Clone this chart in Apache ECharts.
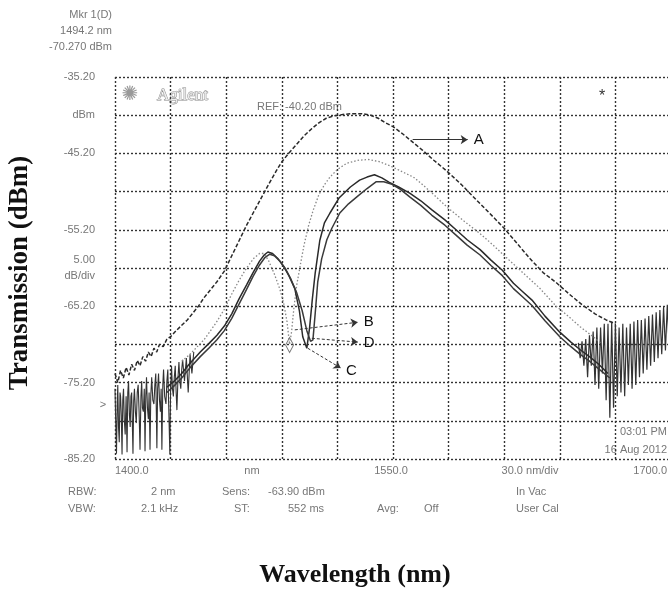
<!DOCTYPE html>
<html>
<head>
<meta charset="utf-8">
<title>Transmission spectrum</title>
<script src="https://cdn.jsdelivr.net/npm/echarts@6/dist/echarts.min.js"></script>
<style>
  html, body { margin: 0; padding: 0; background: #fff; }
  #chart { width: 668px; height: 589px; }
</style>
</head>
<body>
<div id="chart"></div>
<script>
// trace A: dashed, highest curve
const traceA = [
  [1400, -74.0], [1401.5, -75.2], [1403, -73.6], [1404.5, -74.6], [1406, -73.2], [1407.5, -74.2],
  [1409, -72.8], [1410.5, -73.6], [1412, -72.3], [1413.5, -73.0], [1415, -71.8], [1416.5, -72.4],
  [1418, -71.2], [1419.5, -71.8], [1421, -70.7], [1422.5, -71.2], [1424, -70.2], [1426, -70.5],
  [1428, -69.5], [1430, -69.2], [1433, -68.4], [1436, -67.7], [1439, -67.0], [1442, -66.1],
  [1445, -65.2], [1448, -64.1], [1451, -63.2], [1455, -62.0], [1459, -60.6], [1463, -58.6],
  [1467, -56.6], [1471, -54.6], [1475, -52.8], [1479, -51.0], [1483, -49.2], [1487, -47.5],
  [1490, -46.3], [1494, -45.1], [1498, -44.0], [1502, -42.9], [1506, -42.0], [1510, -41.2],
  [1514, -40.6], [1518, -40.3], [1523, -40.1], [1528, -40.0], [1533, -40.0], [1538, -40.2],
  [1542, -40.6], [1546, -41.2], [1550, -41.7], [1555, -42.6], [1560, -43.6], [1566, -44.8],
  [1572, -46.1], [1579, -47.5], [1587, -49.3], [1595, -51.3], [1602, -53.0], [1610, -55.0],
  [1617, -57.0], [1624, -59.0], [1631, -60.8], [1638, -62.1], [1645, -63.6], [1652, -65.0],
  [1659, -66.2], [1665, -67.0], [1670, -67.5]
]

// trace B: dotted grey
const traceB = [
  [1436, -72.4], [1440, -71.6], [1444, -70.6], [1448, -69.6], [1451, -68.6], [1455, -67.2],
  [1459, -65.6], [1463, -63.6], [1467, -61.8], [1471, -60.2], [1475, -58.9], [1478, -58.3],
  [1480.5, -58.3], [1483, -59.3], [1486, -61.0], [1489, -63.0], [1491, -64.8], [1492.8, -67.2],
  [1494.2, -70.2], [1495.3, -68.5], [1496.5, -65.5], [1498, -62.5], [1500, -59.8], [1502, -57.2],
  [1504.5, -54.6], [1507, -52.6], [1510, -50.6], [1513, -49.3], [1516, -48.3], [1520, -47.3],
  [1525, -46.5], [1531, -46.1], [1537, -46.0], [1543, -46.3], [1549, -46.9], [1555, -47.6],
  [1561, -48.3], [1566, -49.3], [1572, -50.6], [1579, -52.2], [1588, -54.0], [1597, -55.7],
  [1604, -57.2], [1611, -58.8], [1620, -60.8], [1629, -62.8], [1638, -65.2], [1645, -66.6],
  [1651, -67.9], [1657, -69.0], [1662, -70.0]
]

// trace C: solid, deepest notch
const traceC = [
  [1428, -75.8], [1432, -75.0], [1436, -74.0], [1440, -72.8], [1446, -71.2], [1451, -70.0],
  [1455, -69.0], [1459, -67.8], [1463, -66.2], [1467, -64.2], [1471, -62.4], [1474.5, -60.8],
  [1478, -59.3], [1480.5, -58.5], [1482.5, -58.1], [1485, -58.3], [1488, -59.0], [1491, -60.0],
  [1494, -61.3], [1497, -62.9], [1499.5, -65.8], [1501.3, -69.2], [1503.5, -70.7], [1505, -68.0],
  [1506.5, -64.2], [1508, -60.9], [1510.5, -56.6], [1513, -54.3], [1516, -53.0], [1521, -51.0],
  [1527, -49.6], [1532, -48.7], [1536, -48.3], [1540, -48.0], [1544, -48.4], [1548, -49.0],
  [1553, -49.6], [1559, -50.4], [1565, -51.4], [1571, -52.6], [1578, -53.9], [1584, -55.2],
  [1590, -56.5], [1597, -57.8], [1603, -59.2], [1609, -60.5], [1615, -62.2], [1620, -63.3],
  [1625, -64.4], [1632, -66.5], [1640, -68.6], [1646, -69.9], [1651, -70.9], [1656, -71.8],
  [1661, -72.8], [1666, -74.0]
]

// trace D: solid, notch slightly to the right
const traceD = [
  [1428, -76.5], [1432, -75.6], [1436, -74.6], [1440, -73.4], [1446, -71.8], [1451, -70.6],
  [1455, -69.6], [1459, -68.4], [1463, -66.8], [1467, -64.9], [1471, -63.0], [1474.5, -61.3],
  [1478, -59.8], [1481, -58.8], [1483.5, -58.4], [1486, -58.6], [1489, -59.3], [1492, -60.3],
  [1495, -61.7], [1498, -63.4], [1501, -65.8], [1503.5, -68.4], [1505.5, -69.8], [1506.8, -69.6],
  [1508, -66.2], [1509.4, -62.0], [1511.5, -59.0], [1514.3, -56.5], [1517, -55.0], [1521.3, -53.0],
  [1526, -51.8], [1530.5, -50.9], [1536, -49.8], [1541, -48.9], [1545, -48.9], [1549, -49.2],
  [1554, -49.9], [1559, -50.9], [1565, -52.0], [1571, -53.3], [1578, -54.6], [1584, -55.9],
  [1590, -57.2], [1597, -58.5], [1603, -59.9], [1609, -61.2], [1615, -62.9], [1620, -64.0],
  [1625, -65.1], [1632, -67.1], [1640, -69.2], [1646, -70.5], [1651, -71.5], [1656, -72.4],
  [1661, -73.4], [1667, -74.6]
]

// noise floor at the short wavelength end
const noiseLeft = [
  [1400, -76.0], [1400.4, -80.5], [1400.8, -84.5], [1401.2, -78.0], [1401.5, -75.5], [1401.9, -81.0],
  [1402.3, -83.0], [1402.7, -76.5], [1403, -77.0], [1403.4, -79.5], [1403.8, -84.6], [1404.2, -77.5],
  [1404.6, -76.0], [1405, -80.0], [1405.5, -82.0], [1406, -77.0], [1406.5, -84.3], [1406.9, -76.5],
  [1407.3, -75.0], [1407.8, -79.5], [1408.2, -81.0], [1408.6, -77.0], [1409, -76.5], [1409.3, -80.0],
  [1409.7, -84.5], [1410.1, -77.5], [1410.5, -76.0], [1411, -79.0], [1411.5, -80.5], [1412, -76.5],
  [1412.5, -75.5], [1413, -79.0], [1413.5, -84.0], [1414, -77.0], [1414.4, -75.0], [1414.8, -78.5],
  [1415.3, -79.0], [1415.8, -76.0], [1416.2, -84.2], [1416.6, -77.0], [1417, -74.5], [1417.5, -78.5],
  [1418, -80.0], [1418.4, -76.5], [1418.9, -84.0], [1419.3, -77.0], [1419.8, -74.5], [1420.4, -77.5],
  [1421, -78.0], [1421.5, -75.5], [1422, -74.0], [1422.3, -79.0], [1422.6, -83.8], [1423, -76.0],
  [1423.5, -74.0], [1424, -77.5], [1424.5, -79.0], [1424.9, -76.0], [1425.3, -84.0], [1425.8, -75.5],
  [1426.2, -73.5], [1426.8, -77.0], [1427.5, -78.0], [1428, -75.0], [1428.5, -73.5], [1429, -78.5],
  [1429.6, -84.6], [1430, -76.0], [1430.5, -73.0], [1431, -76.0], [1431.5, -77.0], [1432, -74.5],
  [1432.5, -73.0], [1433, -76.5], [1433.4, -78.8], [1434, -74.5], [1434.5, -72.5], [1435, -75.0],
  [1435.5, -76.0], [1436, -73.5], [1436.5, -72.2], [1437.5, -75.0], [1438.5, -72.0], [1439.5, -76.5],
  [1440.5, -71.5], [1441.5, -74.0], [1442.5, -71.2]
]

// noise floor at the long wavelength end
const noiseRight = [
  [1650, -70.0], [1651, -72.0], [1652, -69.8], [1653, -73.0], [1654, -69.5], [1655, -74.5],
  [1656, -69.0], [1657, -73.0], [1658, -68.5], [1659, -75.5], [1660, -68.0], [1661, -76.0],
  [1662, -68.0], [1663, -74.0], [1664, -67.5], [1665, -77.5], [1666, -67.5], [1667, -79.8],
  [1668, -67.2], [1669, -78.5], [1670, -67.5], [1671, -77.0], [1672, -68.0], [1673, -76.5],
  [1674, -67.5], [1675, -77.0], [1676, -68.0], [1677, -75.5], [1678, -67.5], [1679, -76.0],
  [1680, -67.2], [1681, -75.5], [1682, -67.0], [1683, -74.5], [1684, -67.0], [1685, -74.0],
  [1686, -66.8], [1687, -73.5], [1688, -66.5], [1689, -73.0], [1690, -66.3], [1691, -72.5],
  [1692, -66.0], [1693, -72.0], [1694, -65.7], [1695, -71.5], [1696, -65.3], [1697, -71.0],
  [1698, -65.0], [1699, -70.5], [1700, -64.8]
]

// arrows: [label, start, end]
const arrows = [
  ['A', [1560.6, -43.4], [1590.3, -43.4]],
  ['B', [1497.0, -68.3], [1531.0, -67.3]],
  ['D', [1506.2, -69.4], [1531.0, -69.9]],
  ['C', [1504.0, -70.7], [1521.8, -73.3]]
]
const marker = [1494.2, -70.27]

// tick labels, one per division (bottom to top) and along the x axis
const yTickLabels = ['-85.20', '', '-75.20', '', '-65.20', '5.00\ndB/div', '-55.20', '', '-45.20', 'dBm', '-35.20']
const xTickLabels = ['1400.0', 'nm', '1550.0', '30.0 nm/div', '1700.0']

const chart = echarts.init(document.getElementById('chart'))

const gridLine = { color: '#333', width: 1.4, type: [2, 2] }
const grey = '#777'
const osaFont = 'Liberation Sans, Arial, sans-serif'
const serif = 'Liberation Serif, Times New Roman, serif'

const smallText = (text, x, y, align) => ({
  type: 'text', x: x, y: y,
  style: { text: text, fill: grey, font: '11px ' + osaFont, textAlign: align || 'left', textVerticalAlign: 'middle' }
})

const option = {
  animation: false,
  grid: { left: 115, top: 77, width: 556, height: 382, outerBoundsMode: 'none' },
  xAxis: [
    {
      // grid divisions
      type: 'value', min: 0, max: 10, interval: 1,
      axisLine: { show: false }, axisTick: { show: false }, axisLabel: { show: false },
      splitLine: { show: true, lineStyle: gridLine }
    },
    {
      // bottom labels
      type: 'value', min: 0, max: 4, interval: 1, position: 'bottom',
      axisLine: { show: false }, axisTick: { show: false }, splitLine: { show: false },
      axisLabel: {
        color: grey, fontSize: 11, fontFamily: osaFont, margin: 6, padding: [0, 4, 0, 0],
        alignMinLabel: 'left', alignMaxLabel: 'right',
        formatter: v => xTickLabels[Math.round(v)]
      }
    },
    { type: 'value', min: 1400, max: 1700, show: false }
  ],
  yAxis: [
    {
      type: 'value', min: 0, max: 10, interval: 1,
      axisLine: { show: false }, axisTick: { show: false },
      splitLine: { show: true, lineStyle: gridLine },
      axisLabel: {
        color: grey, fontSize: 11, fontFamily: osaFont, margin: 20, lineHeight: 16,
        formatter: v => yTickLabels[Math.round(v)]
      }
    },
    { type: 'value', min: -85.2, max: -35.2, show: false }
  ],
  series: [
    {
      name: 'noiseLeft', type: 'line', xAxisIndex: 2, yAxisIndex: 1, data: noiseLeft,
      showSymbol: false, silent: true, lineStyle: { color: '#333', width: 1.1 }
    },
    {
      name: 'noiseRight', type: 'line', xAxisIndex: 2, yAxisIndex: 1, data: noiseRight,
      showSymbol: false, silent: true, lineStyle: { color: '#333', width: 1.2 }
    },
    {
      name: 'A', type: 'line', xAxisIndex: 2, yAxisIndex: 1, data: traceA,
      showSymbol: false, silent: true, lineStyle: { color: '#2a2a2a', width: 1.5, type: [4, 2] }
    },
    {
      name: 'B', type: 'line', xAxisIndex: 2, yAxisIndex: 1, data: traceB,
      showSymbol: false, silent: true, lineStyle: { color: '#888', width: 1.3, type: [1.5, 2] }
    },
    {
      name: 'C', type: 'line', xAxisIndex: 2, yAxisIndex: 1, data: traceC,
      showSymbol: false, silent: true, lineStyle: { color: '#2a2a2a', width: 1.5 },
      markLine: {
        silent: true, animation: false,
        symbol: ['none', 'arrow'], symbolSize: 7,
        lineStyle: { color: '#333', width: 1, type: 'solid' },
        label: { show: true, position: 'end', formatter: '{b}', color: '#111', fontSize: 15, fontFamily: osaFont, distance: 6 },
        data: arrows.map(a => [
          { name: a[0], coord: a[1], lineStyle: { type: a[0] === 'A' ? 'solid' : [3, 2] } },
          { coord: a[2] }
        ])
      }
    },
    {
      name: 'D', type: 'line', xAxisIndex: 2, yAxisIndex: 1, data: traceD,
      showSymbol: false, silent: true, lineStyle: { color: '#3a3a3a', width: 1.5 },
      markPoint: {
        silent: true, animation: false,
        symbol: 'diamond', symbolSize: [8, 15],
        itemStyle: { color: 'rgba(0,0,0,0)', borderColor: '#777', borderWidth: 1 },
        label: { show: false },
        data: [{ coord: marker }]
      }
    }
  ],
  graphic: [
    smallText('Mkr 1(D)', 112, 15, 'right'),
    smallText('1494.2 nm', 112, 31, 'right'),
    smallText('-70.270 dBm', 112, 47, 'right'),
    { type: 'text', x: 130, y: 95, style: { text: '\u273A', fill: '#999', font: '20px DejaVu Sans', textAlign: 'center', textVerticalAlign: 'middle' } },
    { type: 'text', x: 157, y: 96, style: { text: 'Agilent', fill: '#eee', stroke: '#888', lineWidth: 1, font: '17px ' + serif, textVerticalAlign: 'middle' } },
    smallText('REF: -40.20 dBm', 257, 107),
    { type: 'text', x: 602, y: 97, style: { text: '*', fill: '#333', font: '16px ' + osaFont, textAlign: 'center', textVerticalAlign: 'middle' } },
    smallText('03:01 PM', 667, 432, 'right'),
    smallText('16 Aug 2012', 667, 450, 'right'),
    smallText('>', 103, 405, 'center'),
    smallText('RBW:', 68, 492),
    smallText('2 nm', 151, 492),
    smallText('Sens:', 222, 492),
    smallText('-63.90 dBm', 268, 492),
    smallText('In Vac', 516, 492),
    smallText('VBW:', 68, 509),
    smallText('2.1 kHz', 141, 509),
    smallText('ST:', 234, 509),
    smallText('552 ms', 288, 509),
    smallText('Avg:', 377, 509),
    smallText('Off', 424, 509),
    smallText('User Cal', 516, 509),
    {
      type: 'text', x: 355, y: 575,
      style: { text: 'Wavelength (nm)', fill: '#111', font: 'bold 26px ' + serif, textAlign: 'center', textVerticalAlign: 'middle' }
    },
    {
      type: 'text', x: 20, y: 273, rotation: Math.PI / 2,
      style: { text: 'Transmission (dBm)', fill: '#111', font: 'bold 27px ' + serif, textAlign: 'center', textVerticalAlign: 'middle' }
    }
  ]
}

chart.setOption(option)

window.addEventListener('resize', () => chart.resize())
</script>
</body>
</html>
